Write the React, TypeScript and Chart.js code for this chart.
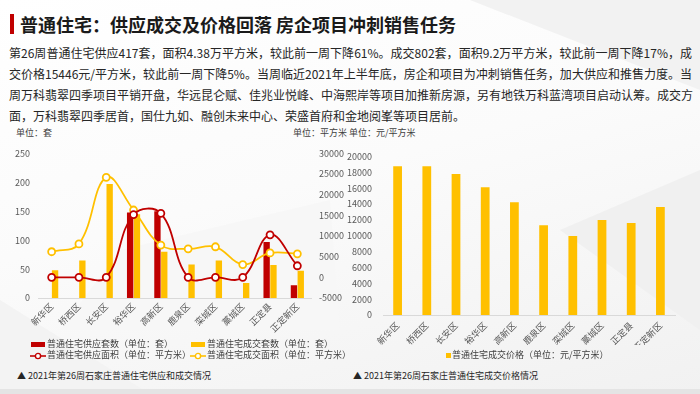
import React, { useEffect, useRef } from "react";
import { Chart, registerables } from "chart.js";

Chart.register(...registerables);

// Districts of Shijiazhuang, week 26 of 2021
const districts = ["新华区", "桥西区", "长安区", "裕华区", "高新区", "鹿泉区", "栾城区", "藁城区", "正定县", "正定新区"];
// Supply / transaction unit counts (套)
const supplyUnits = [0, 0, 0, 148, 150, 0, 0, 0, 97, 22];
const dealUnits = [48, 65, 197, 145, 80, 58, 65, 26, 57, 47];
// Supply / transaction floor area (平方米)
const supplyArea = [0, 0, 0, 15200, 15500, 0, 0, 0, 10300, 2800];
const dealArea = [6200, 8100, 24200, 16300, 7800, 6900, 7400, 3100, 5900, 5700];
// Transaction price (元/平方米)
const dealPrice = [18760, 18750, 17790, 16100, 14220, 11330, 9960, 11970, 11600, 13610];

const RED = "#C00000";
const YELLOW = "#FFC000";
const FONT = '"Noto Sans CJK SC", "Noto Sans", sans-serif';
const TICK = "#595959";

const tickFont = { family: FONT, size: 9 };
const plain = (v: any) => String(v);

function SupplyDealChart() {
  const ref = useRef<HTMLCanvasElement>(null);
  useEffect(() => {
    if (!ref.current) return;
    const lineStyle = (color: string) => ({
      borderColor: color,
      backgroundColor: "#ffffff",
      borderWidth: 1.8,
      tension: 0.4,
      pointRadius: 3.5,
      pointBorderWidth: 1.8,
      pointBackgroundColor: "#ffffff",
      pointBorderColor: color,
      order: 0,
    });
    const chart = new Chart(ref.current, {
      type: "bar",
      data: {
        labels: districts,
        datasets: [
          {
            type: "line",
            label: "普通住宅供应面积（单位：平方米）",
            data: supplyArea,
            yAxisID: "yArea",
            ...lineStyle(RED),
          } as any,
          {
            type: "line",
            label: "普通住宅成交面积（单位：平方米）",
            data: dealArea,
            yAxisID: "yArea",
            ...lineStyle(YELLOW),
          } as any,
          {
            type: "bar",
            label: "普通住宅供应套数（单位：套）",
            data: supplyUnits,
            yAxisID: "yUnits",
            backgroundColor: RED,
            categoryPercentage: 0.5,
            barPercentage: 0.93,
            order: 1,
          },
          {
            type: "bar",
            label: "普通住宅成交套数（单位：套）",
            data: dealUnits,
            yAxisID: "yUnits",
            backgroundColor: YELLOW,
            categoryPercentage: 0.5,
            barPercentage: 0.93,
            order: 1,
          },
        ],
      },
      options: {
        animation: false,
        responsive: false,
        maintainAspectRatio: false,
        layout: { padding: { top: 9, left: 0, right: 0, bottom: 0 } },
        plugins: { legend: { display: false }, tooltip: { enabled: false } },
        scales: {
          x: {
            grid: { display: false, drawTicks: false },
            border: { display: true, color: "#d9d9d9", width: 1 },
            ticks: {
              color: TICK,
              font: tickFont,
              minRotation: 45,
              maxRotation: 45,
              autoSkip: false,
              padding: 3,
            },
            afterFit: (s: any) => {
              s.height = 42;
            },
          },
          yUnits: {
            position: "left",
            min: 0,
            max: 250,
            grid: { display: false, drawTicks: false },
            border: { display: false },
            ticks: { stepSize: 50, color: TICK, font: tickFont, padding: 8, callback: plain },
            afterFit: (s: any) => {
              s.width = 38;
            },
          },
          yArea: {
            position: "right",
            min: -5000,
            max: 30000,
            grid: { display: false, drawTicks: false },
            border: { display: false },
            ticks: { stepSize: 5000, color: TICK, font: tickFont, padding: 8, callback: plain },
            afterFit: (s: any) => {
              s.width = 34;
            },
          },
        },
      },
    });
    return () => chart.destroy();
  }, []);
  return (
    <canvas
      ref={ref}
      width={345}
      height={200}
      style={{ position: "absolute", left: 0, top: 140, width: 345, height: 200 }}
    />
  );
}

function PriceChart() {
  const ref = useRef<HTMLCanvasElement>(null);
  useEffect(() => {
    if (!ref.current) return;
    const chart = new Chart(ref.current, {
      type: "bar",
      data: {
        labels: districts,
        datasets: [
          {
            label: "普通住宅成交价格（单位：元/平方米）",
            data: dealPrice,
            backgroundColor: YELLOW,
            categoryPercentage: 0.6,
            barPercentage: 0.5,
          },
        ],
      },
      options: {
        animation: false,
        responsive: false,
        maintainAspectRatio: false,
        layout: { padding: { top: 9, left: 0, right: 25, bottom: 0 } },
        plugins: { legend: { display: false }, tooltip: { enabled: false } },
        scales: {
          x: {
            grid: { display: false, drawTicks: false },
            border: { display: true, color: "#d9d9d9", width: 1 },
            ticks: {
              color: TICK,
              font: tickFont,
              minRotation: 45,
              maxRotation: 45,
              autoSkip: false,
              padding: 5,
            },
            afterFit: (s: any) => {
              s.height = 30;
            },
          },
          y: {
            min: 0,
            max: 20000,
            grid: { display: false, drawTicks: false },
            border: { display: false },
            ticks: { stepSize: 2000, color: TICK, font: tickFont, padding: 11, callback: plain },
            afterFit: (s: any) => {
              s.width = 38;
            },
          },
        },
      },
    });
    return () => chart.destroy();
  }, []);
  return (
    <canvas
      ref={ref}
      width={355}
      height={205}
      style={{ position: "absolute", left: 345, top: 140, width: 355, height: 205 }}
    />
  );
}

const abs = (left: number, top: number, extra: React.CSSProperties = {}): React.CSSProperties => ({
  position: "absolute",
  left,
  top,
  whiteSpace: "nowrap",
  ...extra,
});

const small: React.CSSProperties = { fontSize: 9, lineHeight: "12px", color: "#404040" };
const caption: React.CSSProperties = { fontSize: 9, lineHeight: "14px", color: "#262626" };

function BarKey({ color }: { color: string }) {
  return <span style={{ display: "inline-block", width: 14, height: 5, background: color, marginRight: 2, verticalAlign: "middle" }} />;
}

function LineKey({ color }: { color: string }) {
  return (
    <svg width={16} height={8} style={{ verticalAlign: "middle", marginRight: 1 }}>
      <line x1={0} y1={4} x2={16} y2={4} stroke={color} strokeWidth={1.6} />
      <circle cx={8} cy={4} r={2.6} fill="#ffffff" stroke={color} strokeWidth={1.4} />
    </svg>
  );
}

const paraLines = [
  "第26周普通住宅供应417套，面积4.38万平方米，较此前一周下降61%。成交802套，面积9.2万平方米，较此前一周下降17%，成",
  "交价格15446元/平方米，较此前一周下降5%。当周临近2021年上半年底，房企和项目为冲刺销售任务，加大供应和推售力度。当",
  "周万科翡翠四季项目平销开盘，华远昆仑赋、佳兆业悦峰、中海熙岸等项目加推新房源，另有地铁万科蓝湾项目启动认筹。成交方",
  "面，万科翡翠四季居首，国仕九如、融创未来中心、荣盛首府和金地阅峯等项目居前。",
];

export default function App() {
  return (
    <div
      style={{
        position: "fixed",
        left: 0,
        top: 0,
        width: 700,
        height: 394,
        overflow: "hidden",
        fontFamily: FONT,
        background: "linear-gradient(165deg, #ffffff 0%, #fbfbfb 45%, #f1f1f1 100%)",
      }}
    >
      <svg width={700} height={394} style={{ position: "absolute", left: 0, top: 0 }}>
        <polygon points="470,0 700,0 700,90" fill="#f2f2f2" />
        <polygon points="0,300 150,394 0,394" fill="#f3f3f3" />
        <polygon points="560,230 700,170 700,330" fill="#f0f0f0" />
        <polygon points="120,250 330,200 340,330 60,330" fill="#f7f7f7" />
        <rect x={0} y={389} width={700} height={5} fill="#e4e4e4" />
      </svg>

      <div style={{ position: "absolute", left: 10, top: 14, width: 4, height: 20, background: RED }} />
      <div style={abs(20, 12, { fontSize: 18, fontWeight: 700, lineHeight: "24px", color: "#1a1a1a" })}>
        普通住宅：供应成交及价格回落 房企项目冲刺销售任务
      </div>

      {paraLines.map((t, i) => (
        <div
          key={i}
          style={{
            position: "absolute",
            left: 9,
            top: 43 + i * 21,
            width: 683,
            fontSize: 12,
            lineHeight: "20px",
            color: "#262626",
            whiteSpace: "nowrap",
            textAlign: i < paraLines.length - 1 ? "justify" : "left",
            textAlignLast: i < paraLines.length - 1 ? "justify" : "left",
          }}
        >
          {t}
        </div>
      ))}

      <SupplyDealChart />
      <PriceChart />

      <div style={abs(16, 127, small)}>单位：套</div>
      <div style={abs(293, 127, small)}>单位：平方米</div>
      <div style={abs(349, 127, small)}>单位：元/平方米</div>

      <div style={abs(31, 338, small)}>
        <BarKey color={RED} />普通住宅供应套数（单位：套）
      </div>
      <div style={abs(191, 338, small)}>
        <BarKey color={YELLOW} />普通住宅成交套数（单位：套）
      </div>
      <div style={abs(30, 349, small)}>
        <LineKey color={RED} />普通住宅供应面积（单位：平方米）
      </div>
      <div style={abs(190, 349, small)}>
        <LineKey color={YELLOW} />普通住宅成交面积（单位：平方米）
      </div>

      <div style={abs(446, 349, small)}>
        <span style={{ display: "inline-block", width: 5, height: 5, background: YELLOW, marginRight: 1, verticalAlign: "middle" }} />
        普通住宅成交价格（单位：元/平方米）
      </div>

      <div style={abs(17, 369, caption)}>▲ 2021年第26周石家庄普通住宅供应和成交情况</div>
      <div style={abs(353, 369, caption)}>▲ 2021年第26周石家庄普通住宅成交价格情况</div>
    </div>
  );
}
